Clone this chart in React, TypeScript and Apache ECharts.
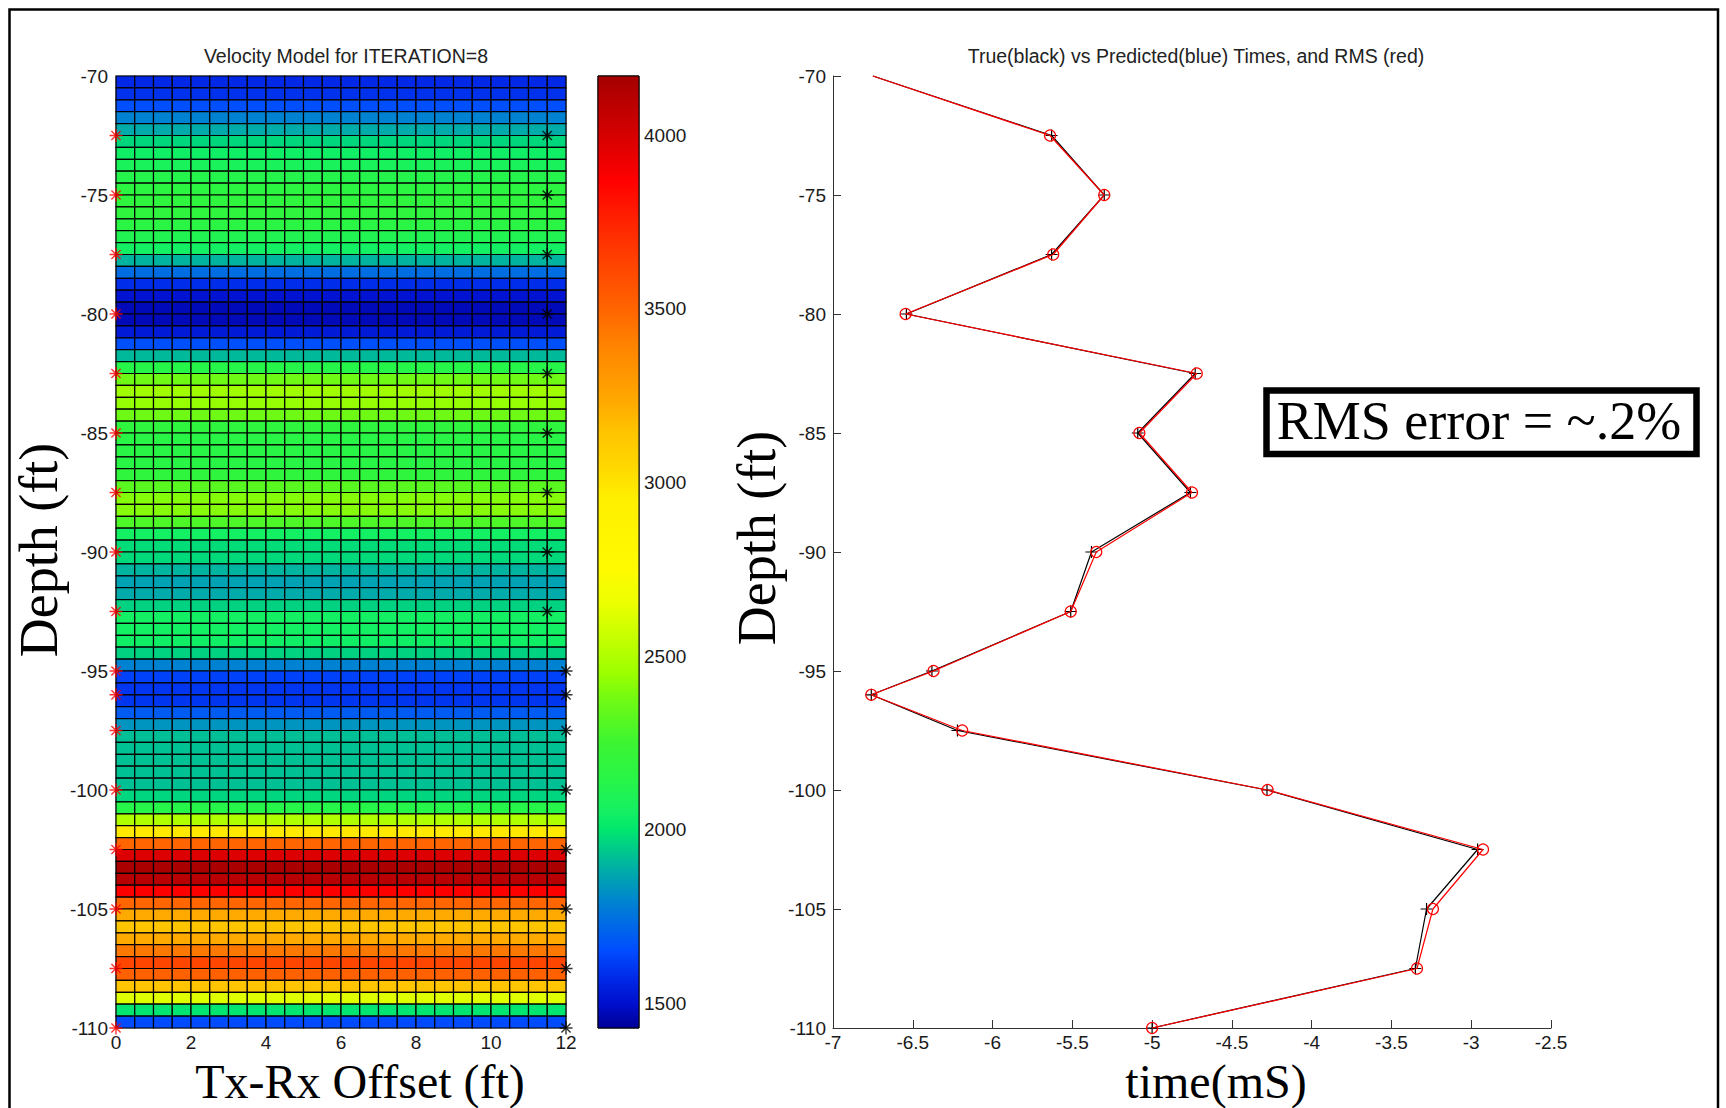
import React, { useEffect, useRef } from 'react';
import * as echarts from 'echarts';

// ---------------- data ----------------
// velocity of each 0.5 ft row, from the top row (-70 .. -70.5) down to (-109.5 .. -110)
const rowVelocity = [
  1570, 1590, 1660, 1790, 1880, 1970, 2040, 2080, 2130, 2170,
  2190, 2190, 2160, 2110, 2050, 1900, 1740, 1580, 1510, 1475,
  1475, 1530, 1660, 1910, 2140, 2370, 2460, 2440, 2370, 2190,
  2150, 2150, 2150, 2190, 2320, 2410, 2410, 2290, 2050, 1980,
  1975, 1900, 1860, 1880, 1960, 2050, 2050, 2040, 1960, 1790,
  1630, 1600, 1600, 1690, 1830, 1920, 1925, 1925, 1925, 1925,
  1965, 2140, 2500, 2980, 3500, 3980, 4150, 4100, 3880, 3500,
  3230, 3140, 3230, 3430, 3620, 3520, 3140, 2620, 2000, 1650,
];
const cellSize = 0.5;
const topDepth = -70;
const offsetMax = 12;

const srcDepths = [-72.5, -75, -77.5, -80, -82.5, -85, -87.5, -90, -92.5, -95, -96, -97.5, -100, -102.5, -105, -107.5, -110];
const srcOffsets = [0, 0, 0, 0, 0, 0, 0, 0, 0, 0, 0, 0, 0, 0, 0, 0, 0];
const rcvDepths = [-72.5, -75, -77.5, -80, -82.5, -85, -87.5, -90, -92.5, -95, -96, -97.5, -100, -102.5, -105, -107.5, -110];
const rcvOffsets = [11.5, 11.5, 11.5, 11.5, 11.5, 11.5, 11.5, 11.5, 11.5, 12, 12, 12, 12, 12, 12, 12, 12];

const timeDepths = [-70, -72.5, -75, -77.5, -80, -82.5, -85, -87.5, -90, -92.5, -95, -96, -97.5, -100, -102.5, -105, -107.5, -110];
const trueTimes = [-6.75, -5.63, -5.3, -5.63, -6.54, -4.73, -5.09, -4.76, -5.38, -5.51, -6.38, -6.76, -6.22, -4.28, -2.96, -3.28, -3.35, -5.0];
const predTimes = [-6.75, -5.64, -5.3, -5.62, -6.545, -4.72, -5.08, -4.75, -5.35, -5.51, -6.37, -6.76, -6.19, -4.276, -2.926, -3.24, -3.34, -5.0];

const colorbarTicks = [1500, 2000, 2500, 3000, 3500, 4000];
const vMin = 1430;
const vMax = 4170;

// colour map: [velocity, r, g, b]
const cmapStops: number[][] = [
  [1430, 0, 0, 150], [1500, 0, 15, 205], [1570, 0, 40, 230], [1650, 0, 75, 255],
  [1790, 0, 130, 210], [1880, 0, 170, 170], [1960, 0, 210, 130], [2000, 0, 230, 110],
  [2050, 20, 240, 100], [2150, 40, 245, 70], [2250, 60, 245, 50], [2370, 110, 250, 20],
  [2450, 155, 255, 0], [2560, 200, 255, 0], [2650, 235, 255, 0], [2750, 255, 250, 0],
  [2950, 255, 240, 0], [3050, 255, 215, 0], [3150, 255, 195, 0], [3230, 255, 170, 0],
  [3400, 255, 130, 0], [3500, 255, 100, 0], [3620, 255, 70, 0], [3750, 255, 35, 0],
  [3870, 255, 0, 0], [3980, 220, 0, 0], [4080, 190, 0, 0], [4170, 165, 0, 0],
];

function cmap(v: number): string {
  if (v <= cmapStops[0][0]) { const s = cmapStops[0]; return `rgb(${s[1]},${s[2]},${s[3]})`; }
  for (let i = 1; i < cmapStops.length; i++) {
    const a = cmapStops[i - 1], b = cmapStops[i];
    if (v <= b[0]) {
      const t = (v - a[0]) / (b[0] - a[0]);
      const r = Math.round(a[1] + (b[1] - a[1]) * t);
      const g = Math.round(a[2] + (b[2] - a[2]) * t);
      const bl = Math.round(a[3] + (b[3] - a[3]) * t);
      return `rgb(${r},${g},${bl})`;
    }
  }
  const s = cmapStops[cmapStops.length - 1];
  return `rgb(${s[1]},${s[2]},${s[3]})`;
}

const SANS = 'Liberation Sans, Arial, sans-serif';
const SERIF = 'Liberation Serif, Times New Roman, serif';
const TICK_COLOR = '#1a1a1a';

const starPath = 'path://M0,-10L0,10M-10,0L10,0M-7.07,-7.07L7.07,7.07M-7.07,7.07L7.07,-7.07';
const plusPath = 'path://M0,-10L0,10M-10,0L10,0';

export default function App() {
  const ref = useRef<HTMLDivElement>(null);

  useEffect(() => {
    if (!ref.current) return;
    const chart = echarts.init(ref.current, undefined, { renderer: 'svg' });

    // heatmap cells: [x0, yBottom, x1, yTop, velocity]
    const nCols = Math.round(offsetMax / cellSize);
    const cells: number[][] = [];
    rowVelocity.forEach((v, r) => {
      const yTop = topDepth - r * cellSize;
      const yBot = yTop - cellSize;
      for (let c = 0; c < nCols; c++) {
        cells.push([c * cellSize, yBot, (c + 1) * cellSize, yTop, v]);
      }
    });

    const vmColors: string[] = [];
    const nSamp = 137;
    for (let i = 0; i <= nSamp; i++) vmColors.push(cmap(vMin + ((vMax - vMin) * i) / nSamp));

    const gradStops = cmapStops.map((s) => ({
      offset: (s[0] - vMin) / (vMax - vMin),
      color: `rgb(${s[1]},${s[2]},${s[3]})`,
    }));

    const tickLabel = { fontFamily: SANS, fontSize: 19, color: TICK_COLOR };

    const option: any = {
      animation: false,
      backgroundColor: '#fff',
      title: [
        {
          text: 'Velocity Model for ITERATION=8',
          left: 341, top: 41, textAlign: 'center',
          textStyle: { fontFamily: SANS, fontSize: 19.5, fontWeight: 'normal', color: '#222' },
        },
        {
          text: 'True(black) vs Predicted(blue) Times, and RMS (red)',
          left: 1191, top: 41, textAlign: 'center',
          textStyle: { fontFamily: SANS, fontSize: 19.5, fontWeight: 'normal', color: '#222' },
        },
      ],
      visualMap: {
        type: 'continuous', show: false, seriesIndex: 0, dimension: 4,
        min: vMin, max: vMax, inRange: { color: vmColors },
      },
      grid: [
        { left: 116, top: 76, width: 450, height: 952, outerBoundsMode: 'none', containLabel: false, show: true, borderColor: '#777', borderWidth: 1, backgroundColor: 'transparent' },
        { left: 598, top: 76, width: 41, height: 952, outerBoundsMode: 'none', containLabel: false, show: true, borderColor: '#000', borderWidth: 1, backgroundColor: 'transparent' },
        { left: 833, top: 76, width: 718, height: 952, outerBoundsMode: 'none', containLabel: false },
      ],
      xAxis: [
        {
          gridIndex: 0, type: 'value', min: 0, max: offsetMax, interval: 2,
          axisLine: { show: false }, axisTick: { show: false }, splitLine: { show: false },
          axisLabel: { ...tickLabel, margin: 5 },
          name: 'Tx-Rx Offset (ft)', nameLocation: 'middle', nameGap: 33, nameMoveOverlap: false,
          nameTextStyle: { fontFamily: SERIF, fontSize: 48, lineHeight: 40, color: '#000', padding: [0, 0, 0, 38] },
        },
        { gridIndex: 1, type: 'value', min: 0, max: 1, show: false },
        {
          gridIndex: 2, type: 'value', min: -7, max: -2.5, interval: 0.5,
          axisLine: { show: true, onZero: false, lineStyle: { color: '#333', width: 1 } },
          axisTick: { show: true, inside: true, length: 8, lineStyle: { color: '#333' } },
          splitLine: { show: false },
          axisLabel: { ...tickLabel, margin: 5 },
          name: 'time(mS)', nameLocation: 'middle', nameGap: 33, nameMoveOverlap: false,
          nameTextStyle: { fontFamily: SERIF, fontSize: 48, lineHeight: 40, color: '#000', padding: [0, 0, 0, 48] },
        },
      ],
      yAxis: [
        {
          gridIndex: 0, type: 'value', min: -110, max: -70, interval: 5,
          axisLine: { show: false }, axisTick: { show: false }, splitLine: { show: false },
          axisLabel: { ...tickLabel, margin: 8 },
          name: 'Depth (ft)', nameLocation: 'middle', nameGap: 37,
          nameTextStyle: { fontFamily: SERIF, fontSize: 54, color: '#000', padding: [0, 0, 0, 4] },
        },
        {
          gridIndex: 1, type: 'value', min: vMin, max: vMax, position: 'left',
          axisLine: { show: false }, splitLine: { show: false },
          axisTick: { show: true, inside: true, length: 8, customValues: colorbarTicks, lineStyle: { color: '#000' } },
          axisLabel: { show: false },
        },
        {
          gridIndex: 1, type: 'value', min: vMin, max: vMax, position: 'right',
          axisLine: { show: false }, splitLine: { show: false },
          axisTick: { show: true, inside: true, length: 8, customValues: colorbarTicks, lineStyle: { color: '#000' } },
          axisLabel: { ...tickLabel, margin: 5, customValues: colorbarTicks, formatter: (v: number) => String(v) },
        },
        {
          gridIndex: 2, type: 'value', min: -110, max: -70, interval: 5,
          axisLine: { show: true, onZero: false, lineStyle: { color: '#333', width: 1 } },
          axisTick: { show: true, inside: true, length: 8, lineStyle: { color: '#333' } },
          splitLine: { show: false },
          axisLabel: { ...tickLabel, margin: 7 },
          name: 'Depth (ft)', nameLocation: 'middle', nameGap: 46,
          nameTextStyle: { fontFamily: SERIF, fontSize: 54, color: '#000', padding: [0, 0, 0, 28] },
        },
      ],
      series: [
        {
          type: 'custom', xAxisIndex: 0, yAxisIndex: 0, silent: true,
          encode: { x: [0, 2], y: [1, 3] },
          data: cells,
          renderItem: (params: any, api: any) => {
            const p0 = api.coord([api.value(0), api.value(3)]);
            const p1 = api.coord([api.value(2), api.value(1)]);
            return {
              type: 'rect',
              shape: { x: p0[0], y: p0[1], width: p1[0] - p0[0], height: p1[1] - p0[1] },
              style: { fill: api.visual('color'), stroke: '#000', lineWidth: 1.2 },
            };
          },
        },
        {
          type: 'custom', xAxisIndex: 1, yAxisIndex: 1, silent: true,
          data: [[0, vMin, 1, vMax]],
          renderItem: (params: any, api: any) => {
            const p0 = api.coord([0, api.value(3)]);
            const p1 = api.coord([1, api.value(1)]);
            return {
              type: 'rect',
              shape: { x: p0[0], y: p0[1], width: p1[0] - p0[0], height: p1[1] - p0[1] },
              style: { fill: new echarts.graphic.LinearGradient(0, 1, 0, 0, gradStops), stroke: '#000', lineWidth: 1 },
            };
          },
        },
        {
          type: 'scatter', xAxisIndex: 0, yAxisIndex: 0, silent: true, clip: false, z: 5,
          symbol: starPath, symbolSize: 13,
          itemStyle: { color: 'none', borderColor: '#ff0000', borderWidth: 1.4 },
          data: srcDepths.map((d, i) => [srcOffsets[i], d]),
        },
        {
          type: 'scatter', xAxisIndex: 0, yAxisIndex: 0, silent: true, clip: false, z: 5,
          symbol: starPath, symbolSize: 13,
          itemStyle: { color: 'none', borderColor: '#000', borderWidth: 1.4 },
          data: rcvDepths.map((d, i) => [rcvOffsets[i], d]),
        },
        {
          type: 'line', xAxisIndex: 2, yAxisIndex: 3, silent: true, clip: false, z: 3,
          symbol: plusPath, symbolSize: 12, showAllSymbol: true,
          lineStyle: { color: '#000', width: 1.2 },
          itemStyle: { color: 'none', borderColor: '#000', borderWidth: 1.2 },
          data: timeDepths.map((d, i) => (i === 0 ? { value: [trueTimes[i], d], symbol: 'none' } : [trueTimes[i], d])),
        },
        {
          type: 'line', xAxisIndex: 2, yAxisIndex: 3, silent: true, clip: false, z: 4,
          symbol: 'circle', symbolSize: 11, showAllSymbol: true,
          lineStyle: { color: '#ff0000', width: 1.2 },
          itemStyle: { color: 'none', borderColor: '#ff0000', borderWidth: 1.2 },
          data: timeDepths.map((d, i) => (i === 0 ? { value: [predTimes[i], d], symbol: 'none' } : [predTimes[i], d])),
        },
      ],
      graphic: [
        {
          type: 'rect', silent: true,
          shape: { x: 9.5, y: 9.5, width: 1708.5, height: 1200 },
          style: { fill: 'none', stroke: '#000', lineWidth: 2.5 },
        },
        {
          type: 'rect', silent: true,
          shape: { x: 1266.5, y: 390.5, width: 430, height: 63.5 },
          style: { fill: '#fff', stroke: '#000', lineWidth: 6.5 },
        },
        {
          type: 'text', silent: true, x: 1479, y: 421,
          style: {
            text: 'RMS error = ~.2%', fontFamily: SERIF, fontSize: 54, fill: '#000',
            align: 'center', verticalAlign: 'middle',
          },
        },
      ],
    };

    chart.setOption(option);
    return () => chart.dispose();
  }, []);

  return (
    <div
      ref={ref}
      style={{ position: 'fixed', left: 0, top: 0, width: 1726, height: 1108, background: '#fff' }}
    />
  );
}
